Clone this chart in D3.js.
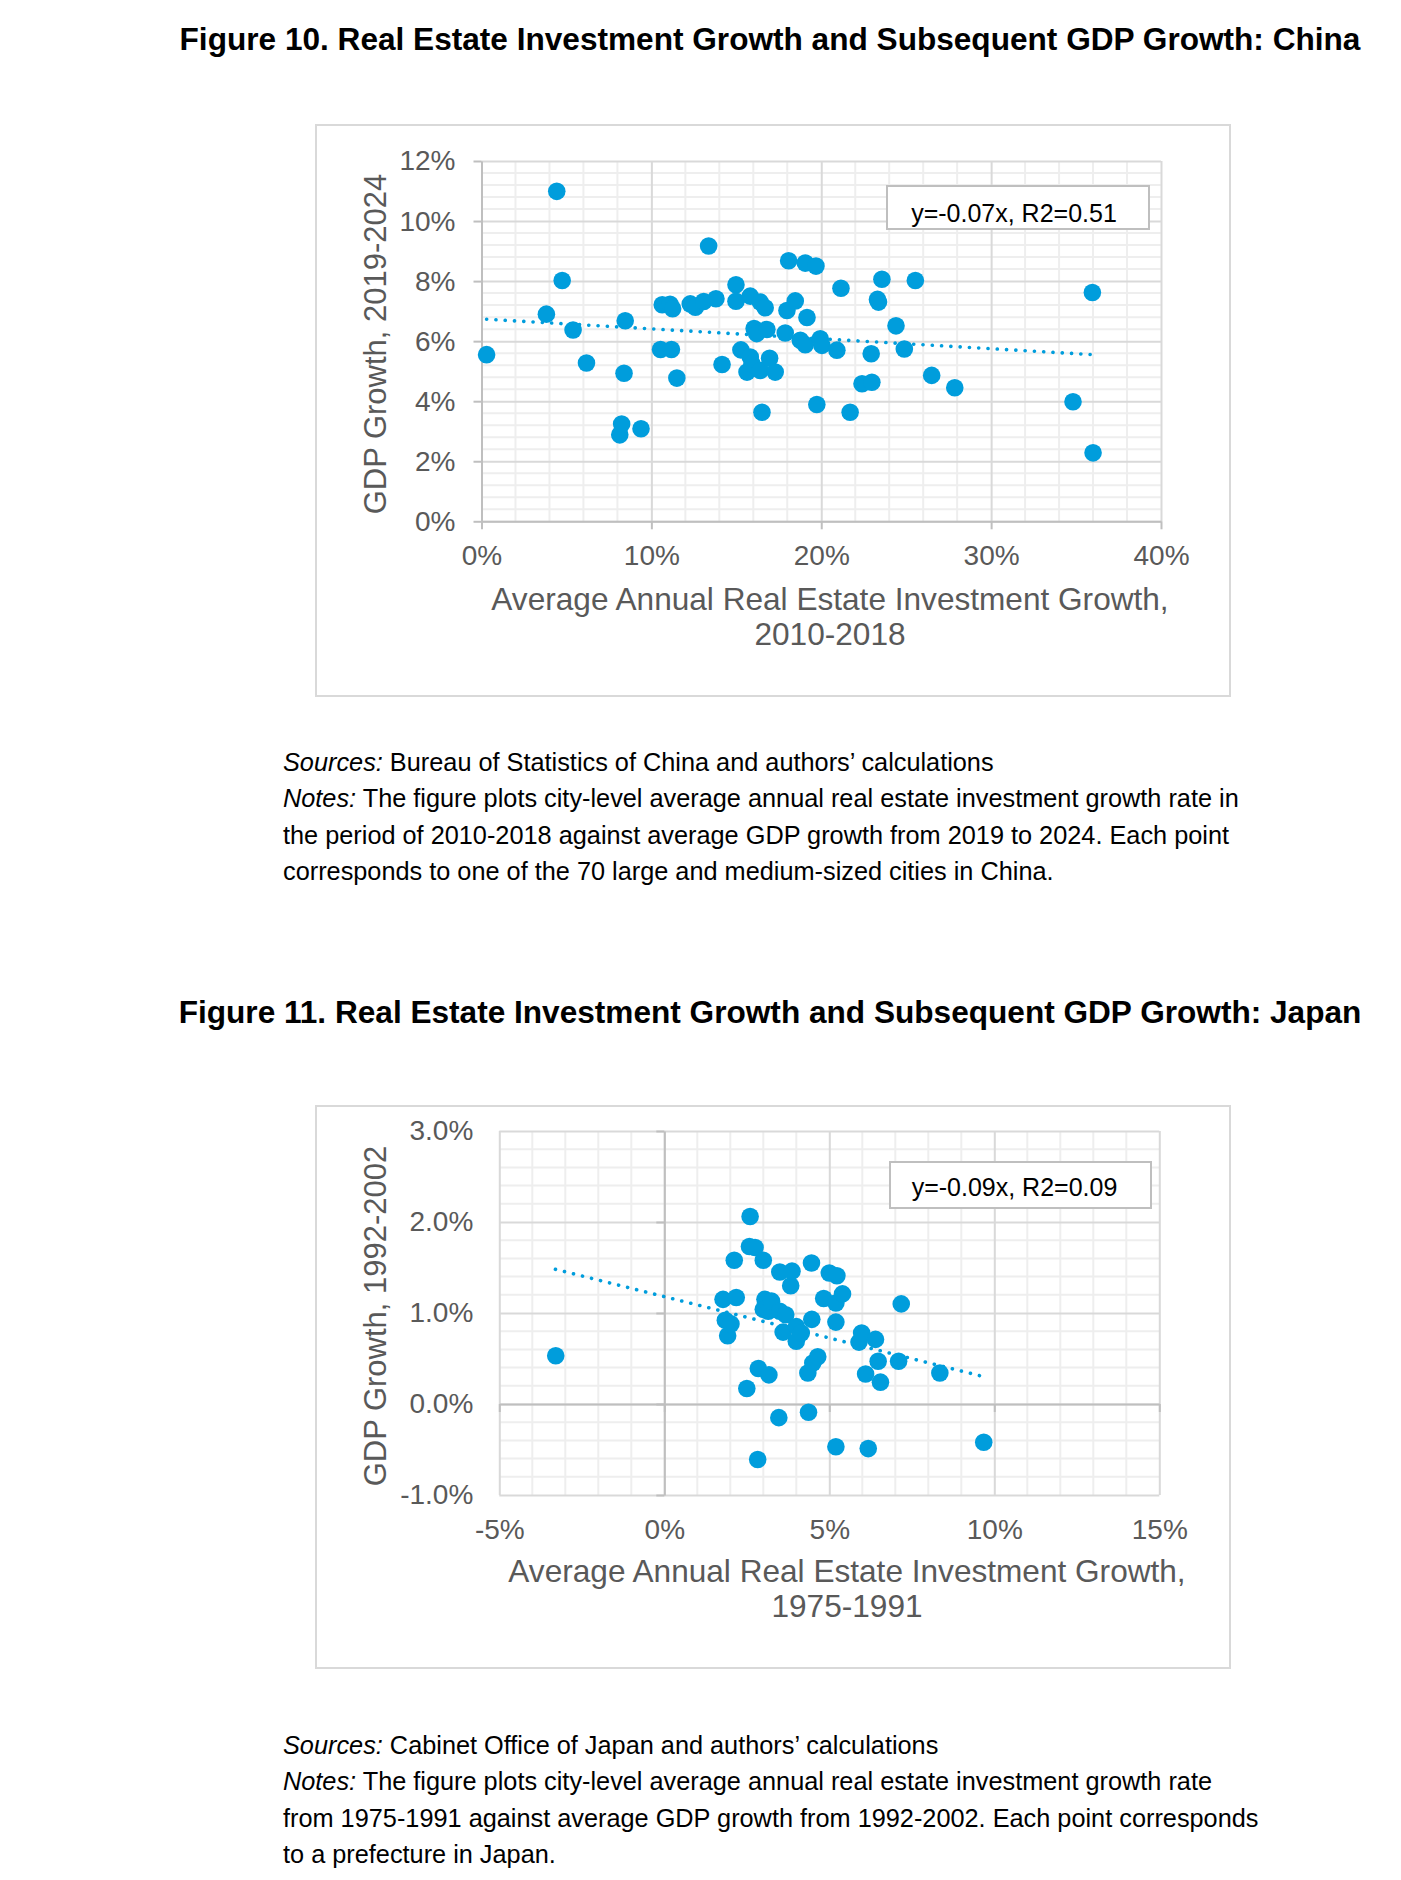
<!DOCTYPE html>
<html>
<head>
<meta charset="utf-8">
<script src="https://cdn.jsdelivr.net/npm/d3@7"></script>
<style>
  body { margin: 0; background: #ffffff; }
  svg { display: block; font-family: "Liberation Sans", Arial, sans-serif; }
</style>
</head>
<body>
<script>
// ---------------- DATA ----------------
// Figure 10 (China): x = avg annual real estate investment growth 2010-2018 (%), y = GDP growth 2019-2024 (%)
const chinaX = [0.3, 3.82, 4.43, 4.75, 5.39, 6.18, 8.14, 8.25, 8.39, 8.46, 9.39, 10.54, 10.64, 11.1, 11.25, 11.18, 11.5,
  12.29, 12.59, 13.08, 13.8, 13.37, 14.16, 14.98, 14.98, 15.27, 15.63, 15.82, 15.82, 15.92, 16.05, 16.2, 16.41, 16.41,
  16.51, 16.7, 16.8, 16.96, 17.29, 17.88, 17.98, 18.08, 18.47, 18.77, 19.06, 19.06, 19.16, 19.69, 19.74, 19.94, 20.04,
  20.92, 21.16, 21.7, 22.4, 22.94, 22.98, 23.31, 23.37, 23.57, 24.4, 24.89, 25.54, 26.5, 27.86, 34.82, 35.96, 36.0];
const chinaY = [5.55, 6.9, 10.99, 8.02, 6.37, 5.27, 2.88, 3.24, 4.93, 6.68, 3.08, 5.72, 7.21, 7.23, 7.08, 5.72, 4.77,
  7.24, 7.13, 7.32, 7.41, 9.17, 5.22, 7.88, 7.33, 5.71, 4.97, 7.5, 5.47, 5.25, 6.42, 6.25, 7.3, 5.02,
  3.63, 7.11, 6.39, 5.43, 4.97, 6.27, 7.02, 8.68, 7.34, 6.03, 5.88, 8.6, 6.79, 8.5, 3.89, 6.08, 5.86,
  5.7, 7.76, 3.63, 4.58, 5.58, 4.63, 7.39, 7.3, 8.06, 6.51, 5.74, 8.02, 4.86, 4.45, 3.98, 7.62, 2.28];
const chinaTrendX = [0.3, 36.0];
const chinaTrendY = [6.73, 5.55];
const chinaXTicks = [0, 10, 20, 30, 40];
const chinaYTicks = [0, 2, 4, 6, 8, 10, 12];
const chinaXTickLabels = ["0%", "10%", "20%", "30%", "40%"];
const chinaYTickLabels = ["0%", "2%", "4%", "6%", "8%", "10%", "12%"];

// Figure 11 (Japan): x = avg annual real estate investment growth 1975-1991 (%), y = GDP growth 1992-2002 (%)
const japanX = [-3.29, 1.78, 1.85, 1.92, 2.02, 2.12, 2.18, 2.5, 2.58, 2.6, 2.75, 2.83, 2.85, 3.0, 3.05, 3.0, 3.15, 3.17,
  3.25, 3.47, 3.5, 3.5, 3.6, 3.68, 3.83, 3.87, 4.0, 4.0, 4.15, 4.35, 4.37, 4.46, 4.47, 4.5, 4.65, 4.83, 5.0, 5.2, 5.2,
  5.2, 5.23, 5.4, 5.9, 5.98, 6.1, 6.18, 6.4, 6.48, 6.55, 7.1, 7.18, 8.35, 9.68];
const japanY = [0.53, 1.15, 0.92, 0.75, 0.88, 1.58, 1.17, 0.17, 1.73, 2.06, 1.72, -0.61, 0.39, 1.58, 1.15, 1.04, 1.02, 0.32,
  1.13, -0.15, 1.45, 1.02, 0.79, 0.98, 1.3, 1.46, 0.85, 0.69, 0.78, 0.34, -0.09, 1.55, 0.93, 0.45, 0.52, 1.16, 1.44, 1.11, 0.9,
  -0.47, 1.41, 1.21, 0.68, 0.78, 0.33, -0.49, 0.71, 0.47, 0.24, 0.47, 1.1, 0.34, -0.42];
const japanTrendX = [-3.3, 9.68];
const japanTrendY = [1.48, 0.30];
const japanXTicks = [-5, 0, 5, 10, 15];
const japanYTicks = [-1, 0, 1, 2, 3];
const japanXTickLabels = ["-5%", "0%", "5%", "10%", "15%"];
const japanYTickLabels = ["-1.0%", "0.0%", "1.0%", "2.0%", "3.0%"];

// ---------------- DRAWING ----------------
const W = 1401, H = 1880;
const BLUE = "#009ddc";
const svg = d3.select("body").append("svg").attr("width", W).attr("height", H);
svg.append("rect").attr("width", W).attr("height", H).attr("fill", "#ffffff");

function drawChart(c) {
  const g = svg.append("g");
  // outer frame
  g.append("rect").attr("x", c.frame[0]).attr("y", c.frame[1]).attr("width", c.frame[2]).attr("height", c.frame[3])
    .attr("fill", "#fff").attr("stroke", "#d9d9d9").attr("stroke-width", 2);

  const x = d3.scaleLinear().domain(c.xDomain).range([c.plot[0], c.plot[1]]);
  const y = d3.scaleLinear().domain(c.yDomain).range([c.plot[3], c.plot[2]]);

  const eps = 1e-9;
  const isMajor = (v, step) => Math.abs(v / step - Math.round(v / step)) < 1e-6;
  const xMinor = d3.range(c.xDomain[0], c.xDomain[1] + eps, c.xMinor).filter(v => !isMajor(v - c.xDomain[0], c.xMajor));
  const yMinor = d3.range(c.yDomain[0], c.yDomain[1] + eps, c.yMinor).filter(v => !isMajor(v - c.yDomain[0], c.yMajor));

  // minor gridlines
  g.append("g").selectAll("line").data(xMinor).join("line")
    .attr("x1", d => x(d)).attr("x2", d => x(d)).attr("y1", y(c.yDomain[0])).attr("y2", y(c.yDomain[1]))
    .attr("stroke", "#eeeeee").attr("stroke-width", 2);
  g.append("g").selectAll("line").data(yMinor).join("line")
    .attr("y1", d => y(d)).attr("y2", d => y(d)).attr("x1", x(c.xDomain[0])).attr("x2", x(c.xDomain[1]))
    .attr("stroke", "#eeeeee").attr("stroke-width", 2);

  // major gridlines via d3 axes
  g.append("g").attr("transform", `translate(0,${c.plot[3]})`)
    .call(d3.axisBottom(x).tickValues(c.xTicks).tickSize(-(c.plot[3] - c.plot[2])).tickFormat(""))
    .call(s => s.select(".domain").remove())
    .call(s => s.selectAll("line").attr("stroke", "#d9d9d9").attr("stroke-width", 2));
  g.append("g").attr("transform", `translate(${c.plot[0]},0)`)
    .call(d3.axisLeft(y).tickValues(c.yTicks).tickSize(-(c.plot[1] - c.plot[0])).tickFormat(""))
    .call(s => s.select(".domain").remove())
    .call(s => s.selectAll("line").attr("stroke", "#d9d9d9").attr("stroke-width", 2));

  // axis lines with outside tick marks (axes cross at 0)
  g.append("g").attr("transform", `translate(0,${y(0)})`)
    .call(d3.axisBottom(x).tickValues(c.xTicks).tickSize(8).tickSizeOuter(0).tickFormat(""))
    .call(s => s.select(".domain").attr("stroke", "#bfbfbf").attr("stroke-width", 2))
    .call(s => s.selectAll("line").attr("stroke", "#bfbfbf").attr("stroke-width", 2));
  g.append("g").attr("transform", `translate(${x(0)},0)`)
    .call(d3.axisLeft(y).tickValues(c.yTicks).tickSize(8).tickSizeOuter(0).tickFormat(""))
    .call(s => s.select(".domain").attr("stroke", "#bfbfbf").attr("stroke-width", 2))
    .call(s => s.selectAll("line").attr("stroke", "#bfbfbf").attr("stroke-width", 2));

  // tick labels (low position)
  g.append("g").attr("transform", `translate(0,${c.plot[3]})`)
    .call(d3.axisBottom(x).tickValues(c.xTicks).tickSize(0).tickPadding(24).tickFormat((d, i) => c.xLabels[i]))
    .call(s => s.select(".domain").remove())
    .call(s => s.selectAll("text").attr("font-size", 28).attr("fill", "#595959")
      .attr("font-family", "'Liberation Sans', Arial, sans-serif"));
  g.append("g").attr("transform", `translate(${c.plot[0]},0)`)
    .call(d3.axisLeft(y).tickValues(c.yTicks).tickSize(0).tickPadding(26).tickFormat((d, i) => c.yLabels[i]))
    .call(s => s.select(".domain").remove())
    .call(s => s.selectAll("text").attr("font-size", 28).attr("fill", "#595959")
      .attr("font-family", "'Liberation Sans', Arial, sans-serif"));

  // trendline (dotted)
  const tl = d3.line().x(d => x(d[0])).y(d => y(d[1]));
  g.append("path").datum(c.trendX.map((v, i) => [v, c.trendY[i]])).attr("d", tl)
    .attr("fill", "none").attr("stroke", BLUE).attr("stroke-width", 3.6)
    .attr("stroke-linecap", "round").attr("stroke-dasharray", "0.1 9.2");

  // points
  g.append("g").selectAll("circle").data(c.xs.map((v, i) => [v, c.ys[i]])).join("circle")
    .attr("cx", d => x(d[0])).attr("cy", d => y(d[1])).attr("r", 8.8).attr("fill", BLUE);

  // equation box
  g.append("rect").attr("x", c.eqBox[0]).attr("y", c.eqBox[1]).attr("width", c.eqBox[2]).attr("height", c.eqBox[3])
    .attr("fill", "#fff").attr("stroke", "#bfbfbf").attr("stroke-width", 2);
  g.append("text").attr("x", c.eqBox[0] + c.eqBox[2] / 2 + c.eqDx).attr("y", c.eqBox[1] + c.eqBox[3] / 2 + c.eqDy)
    .attr("text-anchor", "middle").attr("font-size", 25).attr("fill", "#000").text(c.eq);

  // axis titles
  const xt = g.append("text").attr("text-anchor", "middle").attr("font-size", 31.6).attr("fill", "#595959");
  c.xTitle.forEach((line, i) => {
    xt.append("tspan").attr("x", c.xTitlePos[0]).attr("y", c.xTitlePos[1] + i * 35).text(line);
  });
  g.append("text").attr("transform", `translate(${c.yTitlePos[0]},${c.yTitlePos[1]}) rotate(-90)`)
    .attr("text-anchor", "middle").attr("font-size", 31).attr("fill", "#595959").text(c.yTitle);

  // figure title
  svg.append("text").attr("x", 770).attr("y", c.titleY).attr("text-anchor", "middle")
    .attr("font-size", 31.6).attr("font-weight", "bold").attr("fill", "#000").text(c.title);

  // notes
  const nt = svg.append("g").attr("font-size", 25.3).attr("fill", "#000");
  c.notes.forEach((parts, i) => {
    const t = nt.append("text").attr("x", 283).attr("y", c.notesY + i * 36.4);
    parts.forEach(p => {
      t.append("tspan").attr("font-style", p[1] ? "italic" : "normal").text(p[0]);
    });
  });
}

drawChart({
  frame: [316, 125, 914, 571],
  plot: [481.5, 1161, 161, 521.3],
  xDomain: [0, 40], yDomain: [0, 12],
  xTicks: chinaXTicks, yTicks: chinaYTicks, xLabels: chinaXTickLabels, yLabels: chinaYTickLabels,
  xMajor: 10, xMinor: 2, yMajor: 2, yMinor: 0.4,
  xs: chinaX, ys: chinaY, trendX: chinaTrendX, trendY: chinaTrendY,
  eqBox: [887, 186, 262, 43], eq: "y=-0.07x, R2=0.51", eqDx: -4, eqDy: 14,
  xTitle: ["Average Annual Real Estate Investment Growth,", "2010-2018"], xTitlePos: [830, 610],
  yTitle: "GDP Growth, 2019-2024", yTitlePos: [386, 344],
  title: "Figure 10. Real Estate Investment Growth and Subsequent GDP Growth: China", titleY: 50,
  notesY: 771,
  notes: [
    [["Sources:", true], [" Bureau of Statistics of China and authors\u2019 calculations", false]],
    [["Notes:", true], [" The figure plots city-level average annual real estate investment growth rate in", false]],
    [["the period of 2010-2018 against average GDP growth from 2019 to 2024. Each point", false]],
    [["corresponds to one of the 70 large and medium-sized cities in China.", false]]
  ]
});

drawChart({
  frame: [316, 1106, 914, 562],
  plot: [499.3, 1159.3, 1131, 1495],
  xDomain: [-5, 15], yDomain: [-1, 3],
  xTicks: japanXTicks, yTicks: japanYTicks, xLabels: japanXTickLabels, yLabels: japanYTickLabels,
  xMajor: 5, xMinor: 1, yMajor: 1, yMinor: 0.2,
  xs: japanX, ys: japanY, trendX: japanTrendX, trendY: japanTrendY,
  eqBox: [890, 1162, 261, 46], eq: "y=-0.09x, R2=0.09", eqDx: -6, eqDy: 11,
  xTitle: ["Average Annual Real Estate Investment Growth,", "1975-1991"], xTitlePos: [847, 1582],
  yTitle: "GDP Growth, 1992-2002", yTitlePos: [386, 1316],
  title: "Figure 11. Real Estate Investment Growth and Subsequent GDP Growth: Japan", titleY: 1023,
  notesY: 1754,
  notes: [
    [["Sources:", true], [" Cabinet Office of Japan and authors\u2019 calculations", false]],
    [["Notes:", true], [" The figure plots city-level average annual real estate investment growth rate", false]],
    [["from 1975-1991 against average GDP growth from 1992-2002. Each point corresponds", false]],
    [["to a prefecture in Japan.", false]]
  ]
});
</script>
</body>
</html>
